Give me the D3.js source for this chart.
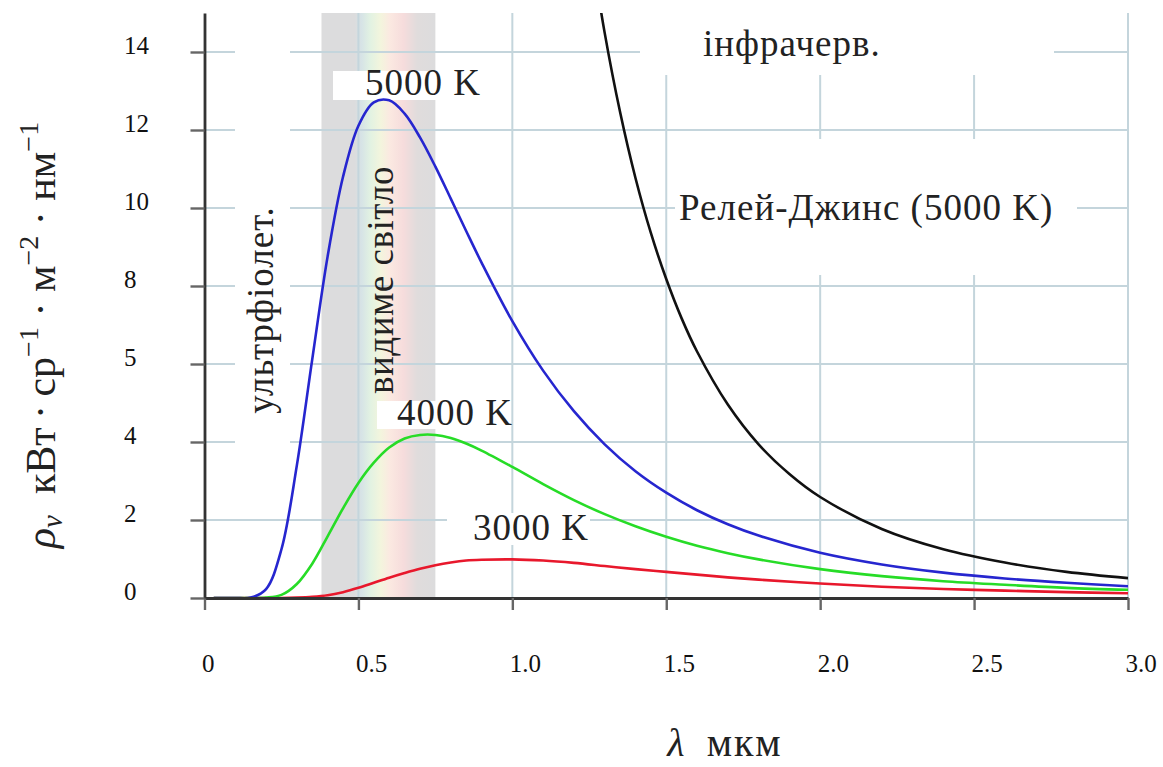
<!DOCTYPE html>
<html>
<head>
<meta charset="utf-8">
<script src="https://cdn.jsdelivr.net/npm/d3@7"></script>
<style>
  html, body { margin: 0; padding: 0; background: #fff; }
  svg text {
    font-family: "Liberation Serif", "Times New Roman", Times, Tinos, "Noto Serif",
                 "DejaVu Serif", FreeSerif, "Nimbus Roman", serif;
  }
</style>
</head>
<body>
<svg id="chart" width="1163" height="767"></svg>
<script>
// Spectral radiance of a black body, kW · sr^-1 · m^-2 · nm^-1, by wavelength (µm)
const wavelengths  = [0.03, 0.1, 0.15, 0.2, 0.25, 0.3, 0.35, 0.4, 0.45, 0.5, 0.55, 0.6, 0.65, 0.7, 0.75, 0.8, 0.85, 0.9, 1.0, 1.1, 1.2, 1.3, 1.4, 1.5, 1.6, 1.7, 1.8, 2.0, 2.2, 2.4, 2.6, 2.8, 3.0];
const radiance5000 = [0, 0, 0.01, 0.23, 1.25, 3.40, 6.12, 8.76, 10.80, 12.11, 12.71, 12.76, 12.42, 11.81, 11.06, 10.24, 9.41, 8.60, 7.10, 5.83, 4.79, 3.94, 3.25, 2.70, 2.25, 1.89, 1.60, 1.16, 0.86, 0.65, 0.50, 0.39, 0.30];
const radiance4000 = [0, 0, 0, 0.01, 0.08, 0.36, 0.88, 1.58, 2.30, 2.95, 3.47, 3.86, 4.09, 4.18, 4.18, 4.10, 3.96, 3.78, 3.36, 2.92, 2.51, 2.15, 1.84, 1.57, 1.34, 1.15, 0.99, 0.74, 0.56, 0.43, 0.34, 0.26, 0.21];
const radiance3000 = [0, 0, 0, 0, 0, 0.01, 0.03, 0.07, 0.15, 0.26, 0.39, 0.52, 0.64, 0.75, 0.84, 0.91, 0.96, 0.98, 0.99, 0.96, 0.90, 0.82, 0.74, 0.67, 0.60, 0.53, 0.47, 0.37, 0.29, 0.23, 0.19, 0.15, 0.12];

// Rayleigh–Jeans approximation at 5000 K
const rjWavelengths     = [1.25, 1.3, 1.35, 1.4, 1.45, 1.5, 1.55, 1.6, 1.7, 1.8, 1.9, 2.0, 2.2, 2.4, 2.6, 2.8, 3.0];
const rayleighJeans5000 = [16.95, 14.49, 12.46, 10.77, 9.36, 8.18, 7.17, 6.32, 4.96, 3.94, 3.18, 2.59, 1.77, 1.25, 0.91, 0.67, 0.51];

// Axis ticks and their labels
const xTicks      = [0, 0.5, 1.0, 1.5, 2.0, 2.5, 3.0];
const xTickLabels = ["0", "0.5", "1.0", "1.5", "2.0", "2.5", "3.0"];
const yTicks      = [0, 2, 4, 6, 8, 10, 12, 14];
const yTickLabels = ["0", "2", "4", "5", "8", "10", "12", "14"];

// Visible range, µm
const visibleBand = [0.38, 0.75];

const svg = d3.select("#chart");
const x = d3.scaleLinear().domain([0, 3]).range([204.5, 1128]);
const y = d3.scaleLinear().domain([0, 15]).range([598, 13]);

const defs = svg.append("defs");
const grad = defs.append("linearGradient").attr("id", "spectrum")
  .attr("x1", 0).attr("x2", 1).attr("y1", 0).attr("y2", 0);
[
  [0.00, "#dcdcdd"], [0.29, "#dcdcdd"], [0.35, "#d6e3e6"], [0.43, "#e2f2e2"],
  [0.52, "#f3f5dd"], [0.60, "#fbe9e1"], [0.72, "#f6dcdc"], [0.84, "#e0dcdc"], [1.00, "#dcdcdd"]
].forEach(([o, c]) => grad.append("stop").attr("offset", o).attr("stop-color", c));

defs.append("clipPath").attr("id", "plot-clip")
  .append("rect").attr("x", x(0)).attr("y", y(15))
  .attr("width", x(3) - x(0)).attr("height", y(0) - y(15));

// visible-light band
svg.append("rect")
  .attr("x", x(visibleBand[0])).attr("y", y(15))
  .attr("width", x(visibleBand[1]) - x(visibleBand[0]))
  .attr("height", y(0) - y(15))
  .attr("fill", "url(#spectrum)");

// grid
const grid = svg.append("g").attr("stroke", "#c4d5dc").attr("stroke-width", 2);
grid.selectAll(".h").data(yTicks.filter(d => d > 0)).join("line")
  .attr("x1", x(0)).attr("x2", x(3)).attr("y1", d => y(d)).attr("y2", d => y(d));
grid.selectAll(".v").data(xTicks.filter(d => d > 0)).join("line")
  .attr("y1", y(0)).attr("y2", y(15)).attr("x1", d => x(d)).attr("x2", d => x(d));

// white backings behind the annotations
const backings = [
  { x0: 235, x1: 290, y0: 15, y1: 462 },
  { x0: 333, x1: 477, y0: 71, y1: 100 },
  { x0: 377, x1: 510, y0: 401, y1: 429 },
  { x0: 447, x1: 590, y0: 513, y1: 545 },
  { x0: 640, x1: 1054, y0: 13, y1: 75 },
  { x0: 675, x1: 1077, y0: 139, y1: 275 }
];
svg.append("g").selectAll("rect").data(backings).join("rect")
  .attr("x", d => d.x0).attr("y", d => d.y0)
  .attr("width", d => d.x1 - d.x0).attr("height", d => d.y1 - d.y0)
  .attr("fill", "#fff");

// curves
const line = d3.line().curve(d3.curveCatmullRom.alpha(0.5)).x(d => x(d[0])).y(d => y(d[1]));
const curves = svg.append("g").attr("clip-path", "url(#plot-clip)")
  .attr("fill", "none").attr("stroke-width", 2.6).attr("stroke-linejoin", "round");
const series = [
  { xs: wavelengths, ys: radiance3000, color: "#e8182c" },
  { xs: wavelengths, ys: radiance4000, color: "#27dc27" },
  { xs: wavelengths, ys: radiance5000, color: "#2626cf" },
  { xs: rjWavelengths, ys: rayleighJeans5000, color: "#111111" }
];
series.forEach(s => {
  curves.append("path")
    .datum(s.xs.map((w, i) => [w, s.ys[i]]))
    .attr("stroke", s.color)
    .attr("d", line);
});

// axes
const xAxis = svg.append("g").attr("transform", `translate(0,${y(0)})`)
  .call(d3.axisBottom(x).tickValues(xTicks).tickSize(12).tickSizeOuter(0)
    .tickFormat((d, i) => xTickLabels[i]));
const yAxis = svg.append("g").attr("transform", `translate(${x(0)},0)`)
  .call(d3.axisLeft(y).tickValues(yTicks).tickSize(14).tickSizeOuter(0)
    .tickFormat((d, i) => yTickLabels[i]));

[xAxis, yAxis].forEach(a => {
  a.attr("font-family", null);
  a.select(".domain").attr("stroke", "#333").attr("stroke-width", 2.8);
  a.selectAll(".tick line").attr("stroke", "#666").attr("stroke-width", 2.4);
  a.selectAll(".tick text").attr("fill", "#111").style("font-size", "25px");
});
xAxis.selectAll(".tick text").attr("text-anchor", "start").attr("x", -3).attr("y", 74).attr("dy", 0);
yAxis.selectAll(".tick text").attr("text-anchor", "start").attr("x", 124 - x(0)).attr("dy", 0).attr("y", 1);

// annotations
const ann = svg.append("g").attr("fill", "#222")
  .style("font-size", "37px").style("letter-spacing", "1px");
ann.append("text").attr("x", 365).attr("y", 95).text("5000 K");
ann.append("text").attr("x", 397).attr("y", 425).text("4000 K");
ann.append("text").attr("x", 473).attr("y", 540).text("3000 K");
ann.append("text").attr("x", 703).attr("y", 56).text("інфрачерв.");
ann.append("text").attr("x", 679).attr("y", 220).text("Релей-Джинс (5000 K)");
ann.append("text").attr("transform", "translate(273,310) rotate(-90)")
  .attr("text-anchor", "middle").text("ультрфіолет.");
ann.append("text").attr("transform", "translate(393,280) rotate(-90)")
  .attr("text-anchor", "middle").style("letter-spacing", "0.5px").text("видиме світло");

// axis titles
const xTitle = svg.append("text").attr("x", 725).attr("y", 756)
  .attr("text-anchor", "middle").attr("fill", "#222").style("font-size", "40px");
xTitle.append("tspan").style("font-style", "italic").text("λ");
xTitle.append("tspan").style("letter-spacing", "2px").text("\u2002мкм");

const yTitle = svg.append("text").attr("transform", "translate(55,335) rotate(-90)")
  .attr("text-anchor", "middle").attr("fill", "#222").style("font-size", "42px");
yTitle.append("tspan").style("font-style", "italic").text("ρ");
yTitle.append("tspan").style("font-style", "italic").style("font-size", "29px").attr("dy", 7).text("ν");
yTitle.append("tspan").attr("dy", -7).text("\u2002кВт\u2009·\u2009ср");
yTitle.append("tspan").style("font-size", "28px").attr("dy", -17).text("−1");
yTitle.append("tspan").attr("dy", 17).text(" · м");
yTitle.append("tspan").style("font-size", "28px").attr("dy", -17).text("−2");
yTitle.append("tspan").attr("dy", 17).text(" · нм");
yTitle.append("tspan").style("font-size", "28px").attr("dy", -17).text("−1");
</script>
</body>
</html>
